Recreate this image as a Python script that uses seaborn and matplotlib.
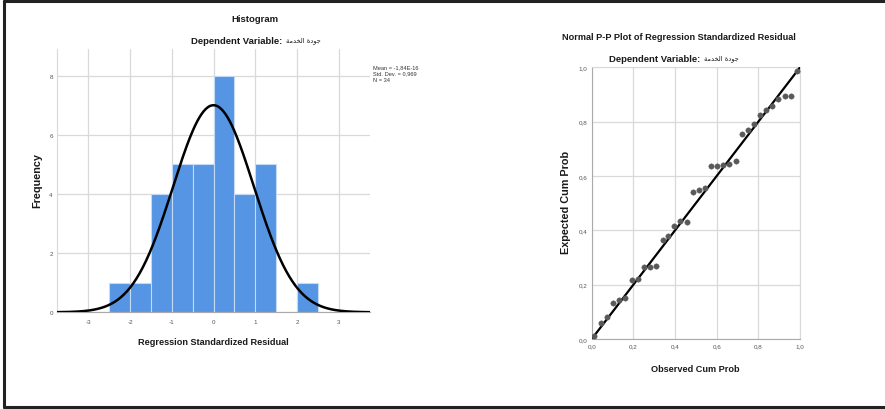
import numpy as np
import pandas as pd
import seaborn as sns
import matplotlib
matplotlib.use('Agg')
from matplotlib import pyplot as plt
from matplotlib.lines import Line2D

sns.set_style('white')
plt.rcParams['font.family'] = ['Liberation Sans Narrow', 'Liberation Sans', 'DejaVu Sans']
WIDE = ['Liberation Sans', 'DejaVu Sans']

# %% Data
bin_edges = [-2.5, -2.0, -1.5, -1.0, -0.5, 0.0, 0.5, 1.0, 1.5, 2.0, 2.5]
bin_counts = [1, 1, 4, 5, 5, 8, 4, 5, 0, 1]
res_mean = -1.84e-16
res_std = 0.969
n_obs = 34

observed_cum = [0.010, 0.045, 0.074, 0.104, 0.133, 0.162, 0.192, 0.221, 0.252, 0.279,
                0.308, 0.340, 0.367, 0.396, 0.426, 0.455, 0.486, 0.514, 0.543, 0.572,
                0.601, 0.630, 0.660, 0.691, 0.720, 0.750, 0.779, 0.808, 0.838, 0.866,
                0.895, 0.926, 0.955, 0.985]
expected_cum = [0.010, 0.059, 0.081, 0.132, 0.145, 0.152, 0.216, 0.221, 0.265, 0.265,
                0.268, 0.365, 0.378, 0.417, 0.434, 0.432, 0.540, 0.548, 0.554, 0.635,
                0.635, 0.640, 0.645, 0.655, 0.753, 0.770, 0.793, 0.824, 0.844, 0.858,
                0.883, 0.893, 0.895, 0.986]

hist_xticks = [-3, -2, -1, 0, 1, 2, 3]
hist_xticklabels = ['-3', '-2', '-1', '0', '1', '2', '3']
hist_yticks = [0, 2, 4, 6, 8]
pp_ticks = [0.0, 0.2, 0.4, 0.6, 0.8, 1.0]
pp_ticklabels = ['0,0', '0,2', '0,4', '0,6', '0,8', '1,0']

# Arabic name in presentation forms, visual order (matplotlib has no shaping)
dep_var = '\ufe94\ufee3\ufeaa\ufea8\ufedf\ufe8d \ufe93\ufea9\ufeee\ufe9f'

BAR_COLOR = '#5595e3'
GRID = '#d9d9d9'
TICK_COLOR = '#555555'
TXT = '#1a1a1a'

# %% Figure
fig = plt.figure(figsize=(8.85, 4.10), dpi=100)

# frame around the output window (open on the right)
for xs, ys in [([0.004, 1.0], [0.994, 0.994]), ([0.005, 0.005], [0.004, 0.994]), ([0.004, 1.0], [0.004, 0.004])]:
    fig.add_artist(Line2D(xs, ys, color='#222222', lw=2.2, transform=fig.transFigure))


def px(x, y):
    return x / 885, 1 - y / 410


# %% Histogram
ax1 = fig.add_axes([0.0644, 0.2359, 0.3537, 0.6422])
centers = [(a + b) / 2 for a, b in zip(bin_edges[:-1], bin_edges[1:])]
hist_df = pd.DataFrame({'x': centers, 'w': bin_counts})
sns.histplot(data=hist_df, x='x', weights='w', bins=bin_edges, ax=ax1,
             color=BAR_COLOR, alpha=1, edgecolor='#c4daf5', linewidth=0.8, zorder=2)

xs = np.linspace(-3.75, 3.75, 300)
bw = bin_edges[1] - bin_edges[0]
curve = n_obs * bw * np.exp(-0.5 * ((xs - res_mean) / res_std) ** 2) / (res_std * np.sqrt(2 * np.pi))
sns.lineplot(x=xs, y=curve, ax=ax1, color='black', lw=1.8, zorder=3)

ax1.set_xlim(-3.75, 3.75)
ax1.set_ylim(0, 8.9)
ax1.set_xticks(hist_xticks)
ax1.set_xticklabels(hist_xticklabels)
ax1.set_yticks(hist_yticks)
ax1.grid(True, color=GRID, lw=0.9, zorder=0)
ax1.set_axisbelow(True)
ax1.tick_params(axis='x', length=0, labelsize=4.5, labelcolor=TICK_COLOR, pad=5)
ax1.tick_params(axis='y', length=0, labelsize=4.5, labelcolor=TICK_COLOR, pad=3)
for s in ['top', 'right']:
    ax1.spines[s].set_visible(False)
ax1.spines['left'].set_color(GRID)
ax1.spines['bottom'].set_color('#aaaaaa')
ax1.set_xlabel('')
ax1.set_ylabel('')

fig.text(*px(255, 20), 'Histogram', ha='center', va='center', fontsize=6.8,
         fontweight='bold', color=TXT)
fig.text(*px(285, 41.5), 'Dependent Variable: ', ha='right', va='center',
         fontsize=6.8, fontweight='bold', color=TXT)
fig.text(*px(286, 41), dep_var, ha='left', va='center', fontsize=4.8, color=TXT,
         family=['DejaVu Sans'])
fig.text(*px(213, 343), 'Regression Standardized Residual', ha='center', va='center',
         fontsize=6.6, fontweight='bold', color=TXT)
fig.text(*px(37, 181), 'Frequency', ha='center', va='center', rotation=90,
         fontsize=7.8, fontweight='bold', color=TXT, family=WIDE)
fig.text(*px(373, 65), 'Mean = -1,84E-16\nStd. Dev. = 0,969\nN = 34',
         ha='left', va='top', fontsize=4.1, color='#333333', linespacing=1.35)

# %% P-P plot
ax2 = fig.add_axes([0.6686, 0.1707, 0.2354, 0.6627])
sns.lineplot(x=[0, 1], y=[0, 1], ax=ax2, color='black', lw=1.6, zorder=3)
sns.scatterplot(x=observed_cum, y=expected_cum, ax=ax2, color='#595959', s=15,
                edgecolor='#595959', linewidth=0.3, zorder=4)
ax2.set_xlim(0, 1)
ax2.set_ylim(0, 1)
ax2.set_xticks(pp_ticks)
ax2.set_xticklabels(pp_ticklabels)
ax2.set_yticks(pp_ticks)
ax2.set_yticklabels(pp_ticklabels)
ax2.grid(True, color=GRID, lw=0.9, zorder=0)
ax2.set_axisbelow(True)
ax2.tick_params(length=0, labelsize=4.5, labelcolor=TICK_COLOR, pad=3)
for s in ax2.spines.values():
    s.set_color(GRID)
ax2.spines['bottom'].set_color('#aaaaaa')
ax2.spines['left'].set_color('#aaaaaa')

fig.text(*px(679, 37), 'Normal P-P Plot of Regression Standardized Residual',
         ha='center', va='center', fontsize=6.6, fontweight='bold', color=TXT)
fig.text(*px(703, 59), 'Dependent Variable: ', ha='right', va='center',
         fontsize=6.8, fontweight='bold', color=TXT)
fig.text(*px(704, 58.5), dep_var, ha='left', va='center', fontsize=4.8, color=TXT,
         family=['DejaVu Sans'])
fig.text(*px(695, 370), 'Observed Cum Prob', ha='center', va='center',
         fontsize=6.6, fontweight='bold', color=TXT)
fig.text(*px(566, 202), 'Expected Cum Prob', ha='center', va='center', rotation=90,
         fontsize=7.8, fontweight='bold', color=TXT, family=WIDE)

fig.savefig('out.png', dpi=100)
